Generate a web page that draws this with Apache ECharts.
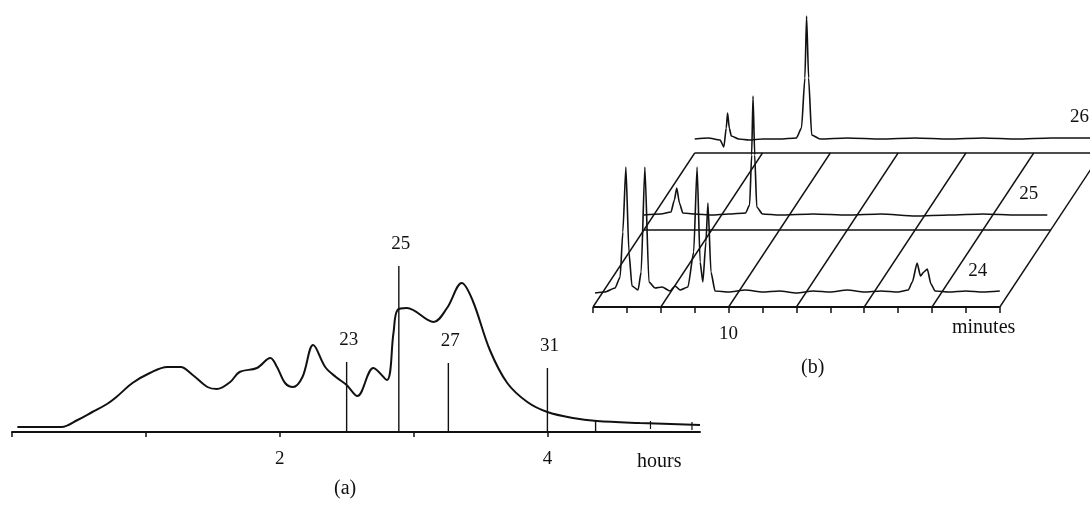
<!DOCTYPE html>
<html>
<head>
<meta charset="utf-8">
<script src="https://cdn.jsdelivr.net/npm/echarts@6/dist/echarts.min.js"></script>
<style>
    html, body {margin: 0; padding: 0; background: #fff;}
    #chart {width: 1090px; height: 509px;}
</style>
</head>
<body>
<div id="chart"></div>
<script>
// (a) elution profile
const hoursA = [0.04, 0.37, 0.49, 0.60, 0.71, 0.78, 0.90, 1.03, 1.16, 1.26, 1.35, 1.46, 1.53, 1.63, 1.70, 1.83, 1.93, 1.98,
    2.04, 2.10, 2.17, 2.25, 2.34, 2.42, 2.50, 2.58, 2.70, 2.80, 2.85, 2.88, 2.95, 3.15, 3.25, 3.36, 3.44, 3.57, 3.70,
    3.85, 4.00, 4.19, 4.37, 4.69, 5.14];
const absA = [0.05, 0.05, 0.12, 0.20, 0.28, 0.35, 0.49, 0.59, 0.65, 0.65, 0.57, 0.45, 0.43, 0.50, 0.60, 0.64, 0.74, 0.65,
    0.49, 0.45, 0.55, 0.87, 0.65, 0.55, 0.47, 0.36, 0.64, 0.52, 0.99, 1.22, 1.24, 1.10, 1.24, 1.49, 1.32, 0.82, 0.49,
    0.30, 0.20, 0.14, 0.11, 0.09, 0.07];
const fractionNames = ['23', '25', '27', '31', ''];
const fractionHours = [2.50, 2.89, 3.26, 4.00, 4.36];
const fractionTops = [0.70, 1.66, 0.69, 0.64, 0.11];
const curveMarkHours = [4.77, 5.08];
const curveMarkVals = [0.08, 0.07];
const hourTicks = [0, 1, 2, 3, 4];
const hourLabels = [2, 4];

// (b) fractions 24, 25, 26 - minutes vs signal
const rowNames = ['24', '25', '26'];
const minutes24 = [6.06, 6.35, 6.65, 6.80, 6.88, 6.97, 7.06, 7.15, 7.33, 7.42, 7.53, 7.65, 7.83, 8.04, 8.27, 8.42, 8.57,
    8.80, 8.97, 9.07, 9.16, 9.24, 9.33, 9.39, 9.48, 9.60, 10.0, 10.5, 11.0, 11.5, 12.0, 12.5, 13.0, 13.5, 14.0, 14.5,
    15.0, 15.3, 15.42, 15.56, 15.66, 15.76, 15.86, 15.97, 16.09, 16.5, 17.0, 17.5, 18.0];
const signal24 = [-1, 0, 4, 15, 60, 125, 40, 6, 2, 20, 125, 10, 4, 5, 1, 6, 2,
    5, 40, 125, 30, 10, 50, 89, 20, 1, 0, 2, 0, 1, -1, 1, 0, 2, 0, 1,
    0, 2, 10, 29, 16, 20, 23, 8, 1, 0, 1, 0, 1];
const minutes25 = [6.0, 6.5, 6.8, 6.9, 6.97, 7.05, 7.15, 7.5, 8.0, 8.5, 9.0, 9.12, 9.18, 9.22, 9.27, 9.33, 9.5, 10, 11,
    12, 13, 14, 15, 16, 17, 17.9];
const signal25 = [0, 1, 3, 15, 27, 12, 2, 1, 0, 1, 2, 10, 60, 119, 60, 8, 1, 0, 1, 0, 1, -1, 0, 1, 0, 0];
const minutes26 = [6.0, 6.4, 6.75, 6.86, 6.93, 6.97, 7.02, 7.08, 7.3, 7.6, 8.0, 8.5, 9.0, 9.15, 9.25, 9.30, 9.36, 9.45,
    9.7, 10.5, 11.5, 12.5, 13.5, 14.5, 15.5, 16.5, 17.5, 18.0];
const signal26 = [-1, 0, -2, -9, 10, 25, 10, 2, -1, -2, -1, -1, 0, 10, 60, 122, 60, 3,
    -1, 0, -1, 0, -1, 0, -1, 0, 0, 0];
const minuteTicks = [6, 7, 8, 9, 10, 11, 12, 13, 14, 15, 16, 17, 18];
const minuteLabels = [10];
const floorSlants = [6, 8, 10, 12, 14, 16, 18];
const floorRows = [0, 1, 2];

// pseudo 3d layout of panel (b)
const SKEW = 1.5;   // minutes shifted per row
const RISE = 77;    // signal units per row
const LIFT = 15;    // trace baseline above the floor line
const INK = '#111';
const FONT = 'Liberation Serif';

const traces = [[minutes24, signal24], [minutes25, signal25], [minutes26, signal26]];

const traceSeries = traces.map(([mins, vals], k) => ({
    name: rowNames[k],
    type: 'line',
    xAxisIndex: 1,
    yAxisIndex: 1,
    symbol: 'none',
    smooth: 0.2,
    smoothMonotone: 'x',
    clip: false,
    lineStyle: {color: INK, width: 1.6},
    z: 3,
    data: mins.map((m, i) => [m + SKEW * k, RISE * k + LIFT + vals[i]])
}));

const chart = echarts.init(document.getElementById('chart'));
const option = {
    backgroundColor: '#fff',
    animation: false,
    grid: [
        {left: 12, top: 232, width: 688, height: 200},
        {left: 593, top: 7, width: 497, height: 300}
    ],
    xAxis: [
        {
            gridIndex: 0, type: 'value', min: 0, max: 5.14,
            axisLine: {lineStyle: {color: INK, width: 2}},
            axisTick: {customValues: hourTicks, length: 5, lineStyle: {color: INK, width: 1.5}},
            axisLabel: {customValues: hourLabels, margin: 18, color: INK, fontFamily: FONT, fontSize: 19},
            splitLine: {show: false}
        },
        {
            gridIndex: 1, type: 'value', min: 6, max: 20.66,
            axisLine: {show: false},
            axisTick: {customValues: minuteTicks, length: 6, lineStyle: {color: INK, width: 1.5}},
            axisLabel: {customValues: minuteLabels, margin: 18, color: INK, fontFamily: FONT, fontSize: 19},
            splitLine: {show: false}
        }
    ],
    yAxis: [
        {gridIndex: 0, type: 'value', min: 0, max: 2, show: false},
        {gridIndex: 1, type: 'value', min: 0, max: 300, show: false}
    ],
    graphic: [
        {type: 'text', left: 637, top: 452, style: {text: 'hours', font: '20px ' + FONT, fill: INK}},
        {type: 'text', left: 334, top: 479, style: {text: '(a)', font: '20px ' + FONT, fill: INK}},
        {type: 'text', left: 801, top: 358, style: {text: '(b)', font: '20px ' + FONT, fill: INK}},
        {type: 'text', left: 952, top: 318, style: {text: 'minutes', font: '20px ' + FONT, fill: INK}}
    ],
    series: [
        {
            name: 'profile',
            type: 'line',
            xAxisIndex: 0,
            yAxisIndex: 0,
            symbol: 'none',
            smooth: 0.35,
            lineStyle: {color: INK, width: 2},
            data: hoursA.map((h, i) => [h, absA[i]])
        },
        {
            // fraction cuts with their numbers
            type: 'custom',
            xAxisIndex: 0,
            yAxisIndex: 0,
            z: 4,
            data: fractionHours.map((h, i) => [h, fractionTops[i]]),
            renderItem: (params, api) => {
                const p0 = api.coord([api.value(0), 0]);
                const p1 = api.coord([api.value(0), api.value(1)]);
                return {
                    type: 'group',
                    children: [
                        {type: 'line', shape: {x1: p0[0], y1: p0[1], x2: p1[0], y2: p1[1]}, style: {stroke: INK, lineWidth: 1.4}},
                        {type: 'text', style: {
                            text: fractionNames[params.dataIndex], x: p1[0] + 2, y: p1[1] - 22,
                            align: 'center', verticalAlign: 'middle', font: '19px ' + FONT, fill: INK
                        }}
                    ]
                };
            }
        },
        {
            // short marks on the tail of the curve
            type: 'custom',
            xAxisIndex: 0,
            yAxisIndex: 0,
            data: curveMarkHours.map((h, i) => [h, curveMarkVals[i]]),
            renderItem: (params, api) => {
                const p = api.coord([api.value(0), api.value(1)]);
                return {type: 'line', shape: {x1: p[0], y1: p[1] - 3, x2: p[0], y2: p[1] + 5}, style: {stroke: INK, lineWidth: 1.2}};
            }
        },
        {
            // floor of the stacked plot
            type: 'custom',
            xAxisIndex: 1,
            yAxisIndex: 1,
            z: 2,
            data: floorRows.map(d => [6, d, 18, d]).concat(floorSlants.map(m => [m, 0, m, 2])),
            renderItem: (params, api) => {
                const a = api.coord([api.value(0) + SKEW * api.value(1), RISE * api.value(1)]);
                const b = api.coord([api.value(2) + SKEW * api.value(3), RISE * api.value(3)]);
                const front = api.value(1) === 0 && api.value(3) === 0;
                return {type: 'line', shape: {x1: a[0], y1: a[1], x2: b[0], y2: b[1]}, style: {stroke: INK, lineWidth: front ? 2 : 1.4}};
            }
        },
        ...traceSeries,
        {
            // fraction number over each trace
            type: 'custom',
            xAxisIndex: 1,
            yAxisIndex: 1,
            z: 4,
            data: rowNames.map((n, k) => [17.35 + SKEW * k, RISE * k + LIFT + 21]),
            renderItem: (params, api) => {
                const p = api.coord([api.value(0), api.value(1)]);
                return {type: 'text', style: {
                    text: rowNames[params.dataIndex], x: p[0], y: p[1],
                    align: 'center', verticalAlign: 'middle', font: '19px ' + FONT, fill: INK
                }};
            }
        }
    ]
};
chart.setOption(option);
</script>
</body>
</html>
